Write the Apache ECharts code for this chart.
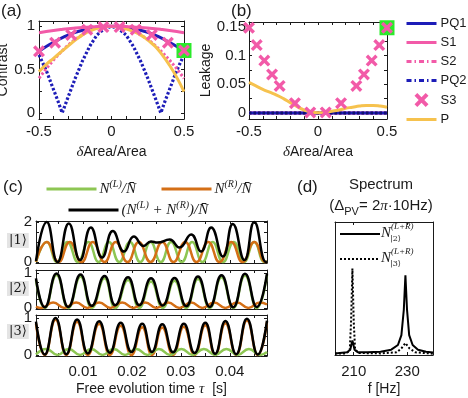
<!DOCTYPE html>
<html>
<head>
<meta charset="utf-8">
<style>
html, body { margin: 0; padding: 0; background: #fff; }
#chart { width: 468px; height: 398px; }
</style>
</head>
<body>
<div id="chart"></div>
<script src="https://cdn.jsdelivr.net/npm/echarts@6/dist/echarts.min.js"></script>
<script>
// (a) contrast and (b) leakage vs dArea/Area
const areaX = [-0.5, -0.45, -0.4, -0.35, -0.3, -0.25, -0.2, -0.15, -0.1, -0.05, 0, 0.05, 0.1, 0.15, 0.2, 0.25, 0.3, 0.35, 0.4, 0.45, 0.5]
const pq1Contrast = [0.71, 0.765, 0.814, 0.858, 0.896, 0.928, 0.954, 0.974, 0.988, 0.997, 1, 0.997, 0.988, 0.974, 0.954, 0.928, 0.896, 0.858, 0.814, 0.765, 0.71]
const s1Contrast = [0.925, 0.938, 0.95, 0.961, 0.971, 0.979, 0.986, 0.992, 0.996, 0.999, 1, 0.999, 0.996, 0.992, 0.986, 0.979, 0.971, 0.961, 0.95, 0.938, 0.925]
const s2Contrast = [0.4, 0.51, 0.61, 0.7, 0.78, 0.85, 0.9, 0.95, 0.98, 0.995, 1, 0.995, 0.98, 0.95, 0.9, 0.85, 0.78, 0.7, 0.61, 0.51, 0.4]
const pContrast = [0.475, 0.56, 0.63, 0.7, 0.77, 0.84, 0.9, 0.945, 0.975, 0.995, 1, 0.99, 0.97, 0.94, 0.9, 0.84, 0.77, 0.67, 0.55, 0.41, 0.245]
const pq2X = [-0.5, -0.45, -0.4, -0.37, -0.34, -0.3, -0.25, -0.2, -0.15, -0.1, -0.05, 0, 0.05, 0.1, 0.15, 0.2, 0.25, 0.3, 0.34, 0.37, 0.4, 0.45, 0.5]
const pq2Contrast = [0.67, 0.49, 0.27, 0.14, 0, 0.18, 0.4, 0.6, 0.77, 0.9, 0.97, 1, 0.97, 0.9, 0.77, 0.6, 0.4, 0.18, 0, 0.14, 0.27, 0.49, 0.67]
const s3ContrastX = [-0.5, -0.389, -0.278, -0.167, -0.056, 0.056, 0.167, 0.278, 0.389, 0.5]
const s3Contrast = [0.71, 0.81, 0.9, 0.96, 0.99, 0.99, 0.96, 0.9, 0.81, 0.72]

const zeroLeak = [0, 0, 0, 0, 0, 0, 0, 0, 0, 0, 0, 0, 0, 0, 0, 0, 0, 0, 0, 0, 0]
const pLeak = [0.053, 0.047, 0.041, 0.036, 0.031, 0.025, 0.018, 0.011, 0.005, 0.0015, 0.0005, 0.001, 0.003, 0.005, 0.008, 0.01, 0.012, 0.013, 0.013, 0.012, 0.01]
const s3LeakX = [-0.5, -0.444, -0.389, -0.333, -0.278, -0.167, -0.056, 0.056, 0.167, 0.278, 0.333, 0.389, 0.444, 0.5]
const s3Leak = [0.148, 0.118, 0.091, 0.067, 0.047, 0.017, 0.001, 0.001, 0.017, 0.047, 0.067, 0.091, 0.118, 0.148]
const markX = [0.5]
const markContrast = [0.72]
const markLeak = [0.148]

// (c) populations, time in ms (peaks / troughs)
const c1GreenT = [0.4, 2.6, 4.7, 6.8, 9.0, 11.1, 13.2, 15.3, 17.4, 19.6, 21.7, 23.8, 25.9, 28.0, 30.2, 32.3, 34.4, 36.5, 38.6, 40.8, 42.9, 45.0, 47.1, 47.6]
const c1GreenV = [0, 1, 0, 1, 0, 1, 0, 1, 0, 1, 0, 1, 0, 1, 0, 1, 0, 1, 0, 1, 0, 1, 0, 0.03]
const c1OrangeT = [0.4, 2.6, 5.0, 7.3, 9.7, 12.0, 14.4, 16.7, 19.1, 21.4, 23.8, 26.2, 28.5, 30.9, 33.2, 35.6, 37.9, 40.3, 42.6, 45.0, 47.3, 47.6]
const c1OrangeV = [0.01, 1, 0, 1, 0, 1, 0, 1, 0, 1, 0, 1, 0, 1, 0, 1, 0, 1, 0, 1, 0, 0.01]
const c1BlackT = [0.4, 2.6, 4.8, 7.1, 9.4, 11.6, 13.9, 16.1, 18.4, 20.4, 22.4, 23.9, 25.2, 27.7, 29.7, 32.1, 34.1, 36.2, 38.6, 40.6, 43.0, 45.0, 47.4, 47.6]
const c1BlackV = [0.05, 2.0, 0.0, 1.93, 0.1, 1.73, 0.22, 1.55, 0.52, 1.27, 0.8, 1.03, 0.97, 1.12, 0.73, 1.38, 0.52, 1.72, 0.27, 1.9, 0.1, 2.0, 0.0, 0.02]

const c2BlackT = [0.4, 2.2, 4.6, 7.0, 9.5, 11.8, 14.4, 16.6, 19.2, 21.5, 23.9, 26.3, 28.7, 31.1, 33.5, 35.9, 38.3, 40.7, 43.1, 45.5, 47.6]
const c2BlackV = [0.85, 0.02, 0.99, 0.03, 0.96, 0.06, 0.92, 0.08, 0.88, 0.08, 0.85, 0.07, 0.86, 0.05, 0.9, 0.03, 0.94, 0.02, 0.98, 0.03, 0.99]
const c2GreenV = [0.8, 0, 0.95, 0, 0.9, 0, 0.85, 0, 0.8, 0, 0.76, 0, 0.78, 0, 0.83, 0, 0.88, 0, 0.93, 0, 0.95]
const c2OrangeT = [0.4, 1.5, 3.9, 6.2, 8.6, 10.9, 13.3, 15.6, 18.0, 20.3, 22.7, 25.0, 27.4, 29.7, 32.1, 34.4, 36.8, 39.1, 41.5, 43.8, 46.2, 47.6]
const c2OrangeV = [0.04, 0, 0.16, 0, 0.16, 0, 0.16, 0, 0.16, 0, 0.16, 0, 0.16, 0, 0.16, 0, 0.16, 0, 0.16, 0, 0.16, 0.1]

const c3BlackT = [0.4, 2.2, 4.4, 6.6, 8.8, 11.0, 13.3, 15.5, 17.7, 19.9, 22.1, 24.1, 26.2, 28.4, 30.6, 32.8, 35.0, 37.0, 39.1, 41.3, 43.5, 45.7, 47.6]
const c3BlackV = [0.9, 0.01, 1.0, 0.02, 0.96, 0.04, 0.91, 0.06, 0.87, 0.08, 0.84, 0.08, 0.83, 0.07, 0.84, 0.05, 0.87, 0.03, 0.92, 0.02, 0.98, 0.01, 0.93]
const c3OrangeV = [0.85, 0, 0.95, 0, 0.9, 0, 0.84, 0, 0.79, 0, 0.75, 0, 0.74, 0, 0.76, 0, 0.8, 0, 0.86, 0, 0.93, 0, 0.9]
const c3GreenT = [0.4, 2.5, 4.8, 7.1, 9.4, 11.7, 14.0, 16.3, 18.6, 20.9, 23.2, 25.5, 27.8, 30.1, 32.4, 34.7, 37.0, 39.3, 41.6, 43.9, 46.2, 47.6]
const c3GreenV = [0.01, 0.16, 0, 0.16, 0, 0.16, 0, 0.16, 0, 0.16, 0, 0.16, 0, 0.16, 0, 0.16, 0, 0.16, 0, 0.16, 0, 0.08]
const timeLabels = [10, 20, 30, 40]
const timeTicks = [5, 10, 15, 20, 25, 30, 35, 40, 45]

// (d) spectrum
const spec2F = [203, 207.5, 208.7, 209.5, 210.3, 211.5, 215, 220, 224, 226.5, 227.8, 228.7, 229.3, 229.9, 230.7, 232, 234, 237, 239.6]
const spec2A = [0.012, 0.02, 0.04, 0.11, 0.04, 0.02, 0.02, 0.025, 0.04, 0.075, 0.15, 0.34, 0.6, 0.34, 0.15, 0.075, 0.04, 0.025, 0.018]
const spec3F = [203, 207, 208.5, 209.0, 209.5, 210.0, 210.5, 212, 220, 226, 227.8, 229.3, 230.8, 233, 239.6]
const spec3A = [0.01, 0.012, 0.03, 0.25, 0.65, 0.25, 0.04, 0.015, 0.012, 0.02, 0.05, 0.09, 0.05, 0.02, 0.01]
const freqLabels = [210, 230]

const INK = '#1a1a1a'
const SANS = 'Liberation Sans, Arial, sans-serif'
const SERIF = 'Liberation Serif, DejaVu Serif, serif'
const BLUE = '#1d1db8'
const PINK = '#f25aa8'
const GOLD = '#f6c24e'
const GREEN = '#8dc653'
const ORANGE = '#d46f16'
const xMark = 'path://M0,2 L2,0 L5,3 L8,0 L10,2 L7,5 L10,8 L8,10 L5,7 L2,10 L0,8 L3,5 Z'

const pairs = (xs, ys) => xs.map((x, i) => [x, ys[i]])

const grids = [
  { left: 39, top: 21, width: 145, height: 98 },
  { left: 249, top: 22, width: 138, height: 97 },
  { left: 36, top: 221, width: 231, height: 42 },
  { left: 36, top: 270, width: 231, height: 39 },
  { left: 36, top: 315, width: 231, height: 41 },
  { left: 335, top: 222, width: 98, height: 133 }
].map(g => ({ ...g, containLabel: false, outerBoundsMode: 'none' }))

const xAxes = []
const yAxes = []
// each grid gets a framed box: labelled bottom/left axis plus bare top/right axis
function addAxes(list, grid, isX, o) {
  const common = {
    type: 'value', gridIndex: grid, min: o.min, max: o.max,
    splitLine: { show: false },
    axisLine: { show: true, onZero: false, lineStyle: { color: INK, width: 1 } },
    axisTick: { show: !o.noTicks, inside: true, length: 3, customValues: o.ticks, lineStyle: { color: INK } }
  }
  list.push({
    ...common,
    position: isX ? 'bottom' : 'left',
    axisLabel: o.labels ? {
      customValues: o.labels, formatter: o.fmt, fontSize: o.fs || 14, color: INK,
      fontFamily: SANS, margin: o.margin
    } : { show: false },
    name: o.name, nameLocation: 'middle', nameGap: o.nameGap,
    nameTextStyle: { fontSize: 14, color: INK, fontFamily: SANS, rich: o.rich }
  })
  list.push({ ...common, position: isX ? 'top' : 'right', axisLabel: { show: false } })
}

const deltaRich = { d: { fontFamily: SERIF, fontStyle: 'italic', fontSize: 15 } }
const areaTicks = [-0.5, -0.4, -0.3, -0.2, -0.1, 0, 0.1, 0.2, 0.3, 0.4, 0.5]

addAxes(xAxes, 0, true, { min: -0.5, max: 0.5, labels: [-0.5, 0, 0.5], ticks: areaTicks, margin: 5, fs: 15, name: '{d|δ}Area/Area', nameGap: 26, rich: deltaRich })
addAxes(yAxes, 0, false, { min: -0.07, max: 1.06, labels: [0, 0.5, 1], ticks: [0, 0.25, 0.5, 0.75, 1], margin: 4, fs: 15, name: 'Contrast', nameGap: 23 })
addAxes(xAxes, 1, true, { min: -0.5, max: 0.5, labels: [-0.5, 0, 0.5], ticks: areaTicks, margin: 5, fs: 15, name: '{d|δ}Area/Area', nameGap: 26, rich: deltaRich })
addAxes(yAxes, 1, false, { min: -0.0105, max: 0.158, labels: [0, 0.05, 0.1, 0.15], ticks: [0, 0.025, 0.05, 0.075, 0.1, 0.125, 0.15], margin: 3, fs: 15, name: 'Leakage', nameGap: 31 })

const tFmt = v => (v / 1000).toFixed(2)
addAxes(xAxes, 2, true, { min: 0.4, max: 47.6, ticks: timeTicks })
addAxes(yAxes, 2, false, { min: -0.05, max: 2.05, labels: [0, 2], ticks: [0, 0.5, 1, 1.5, 2], margin: 4, fs: 15 })
addAxes(xAxes, 3, true, { min: 0.4, max: 47.6, ticks: timeTicks })
addAxes(yAxes, 3, false, { min: -0.03, max: 1.09, labels: [0, 1], ticks: [0, 0.25, 0.5, 0.75, 1], margin: 4, fs: 15 })
addAxes(xAxes, 4, true, { min: 0.4, max: 47.6, labels: timeLabels, ticks: timeTicks, fmt: tFmt, margin: 8, fs: 15, name: 'Free evolution time {t|τ}  [s]', nameGap: 26, rich: { t: { fontFamily: SERIF, fontStyle: 'italic', fontSize: 15 } } })
addAxes(yAxes, 4, false, { min: -0.03, max: 1.08, labels: [0, 1], ticks: [0, 0.25, 0.5, 0.75, 1], margin: 4, fs: 15 })

addAxes(xAxes, 5, true, { min: 203, max: 239.6, labels: freqLabels, ticks: freqLabels, margin: 9, fs: 15, name: 'f [Hz]', nameGap: 27 })
addAxes(yAxes, 5, false, { min: 0, max: 1, noTicks: true })

function line(name, grid, xs, ys, color, width, type, smooth, z) {
  return {
    name, type: 'line', xAxisIndex: 2 * grid, yAxisIndex: 2 * grid,
    data: pairs(xs, ys), symbol: 'none', showSymbol: false, smooth: smooth || false,
    lineStyle: { color, width, type: type || 'solid' }, itemStyle: { color }, z: z || 2
  }
}
function marks(name, grid, xs, ys, color, symbol, size, z) {
  return {
    name, type: 'scatter', xAxisIndex: 2 * grid, yAxisIndex: 2 * grid,
    data: pairs(xs, ys), symbol, symbolSize: size, itemStyle: { color, opacity: 1 }, z
  }
}

const dots = [2.5, 2]
const series = [
  // (a)
  line('PQ2', 0, pq2X, pq2Contrast, BLUE, 3.2, dots, false, 2),
  line('S2', 0, areaX, s2Contrast, PINK, 3, dots, false, 2),
  line('PQ1', 0, areaX, pq1Contrast, BLUE, 3, 'solid', true, 3),
  line('P', 0, areaX, pContrast, GOLD, 3, 'solid', true, 4),
  line('S1', 0, areaX, s1Contrast, PINK, 3, 'solid', true, 4),
  marks('mark', 0, markX, markContrast, '#2bea2b', 'rect', 15, 5),
  marks('S3', 0, s3ContrastX, s3Contrast, PINK, xMark, 12, 6),
  // (b)
  line('S1', 1, areaX, zeroLeak, PINK, 3, 'solid', false, 2),
  line('S2', 1, areaX, zeroLeak, PINK, 3, dots, false, 2),
  line('PQ1', 1, areaX, zeroLeak, BLUE, 3, 'solid', false, 3),
  line('PQ2', 1, areaX, zeroLeak, '#10106e', 3, dots, false, 3),
  line('P', 1, areaX, pLeak, GOLD, 3, 'solid', true, 4),
  marks('mark', 1, markX, markLeak, '#2bea2b', 'rect', 15, 5),
  marks('S3', 1, s3LeakX, s3Leak, PINK, xMark, 12, 6),
  // (c)
  line('NL', 2, c1GreenT, c1GreenV, GREEN, 2.5, 'solid', 0.5, 2),
  line('NR', 2, c1OrangeT, c1OrangeV, ORANGE, 2.5, 'solid', 0.5, 3),
  line('NLR', 2, c1BlackT, c1BlackV, '#000', 2.5, 'solid', 0.5, 4),
  line('NL', 3, c2BlackT, c2GreenV, GREEN, 2.5, 'solid', 0.5, 2),
  line('NR', 3, c2OrangeT, c2OrangeV, ORANGE, 2.5, 'solid', 0.5, 3),
  line('NLR', 3, c2BlackT, c2BlackV, '#000', 2.5, 'solid', 0.5, 4),
  line('NR', 4, c3BlackT, c3OrangeV, ORANGE, 2.5, 'solid', 0.5, 2),
  line('NL', 4, c3GreenT, c3GreenV, GREEN, 2.5, 'solid', 0.5, 3),
  line('NLR', 4, c3BlackT, c3BlackV, '#000', 2.5, 'solid', 0.5, 4),
  // (d)
  line('N3', 5, spec3F, spec3A, '#000', 2, [2, 2], false, 2),
  line('N2', 5, spec2F, spec2A, '#000', 2, 'solid', false, 3)
]
series.forEach(s => { s.silent = true; s.animation = false })

const mathRich = {
  n: { fontFamily: SERIF, fontStyle: 'italic', fontSize: 15, lineHeight: 20, color: INK },
  s: { fontFamily: SERIF, fontStyle: 'italic', fontSize: 10, lineHeight: 12, verticalAlign: 'top', color: INK }
}
// legend icons: keep only the line part (hide the marker drawn in the middle)
const noDot = { opacity: 0 }
const cLegend = (name, left, top, fmt) => ({
  data: [name], left, top, padding: 0, itemWidth: 50, itemHeight: 14, selectedMode: false,
  itemStyle: noDot, lineStyle: { width: 3 },
  formatter: () => fmt, textStyle: { rich: mathRich, padding: [0, 0, 0, -2] }
})

const dashDot = [5, 3, 1.5, 3]
const legends = [
  {
    data: [
      { name: 'PQ1' }, { name: 'S1' },
      { name: 'S2', lineStyle: { width: 3, type: dashDot } },
      { name: 'PQ2', lineStyle: { width: 3, type: dashDot } },
      { name: 'S3', itemStyle: { opacity: 1 } }, { name: 'P' }
    ],
    orient: 'vertical', left: 405, top: 17, padding: 0,
    itemWidth: 30, itemHeight: 14, itemGap: 6, selectedMode: false,
    itemStyle: noDot, lineStyle: { width: 3 },
    textStyle: { fontSize: 13, color: INK, fontFamily: SANS, padding: [0, 0, 0, -1] }
  },
  cLegend('NL', 45, 179, '{n|N}{s|(L)}{n|/N\u0304}'),
  cLegend('NR', 160, 179, '{n|N}{s|(R)}{n|/N\u0304}'),
  cLegend('NLR', 67, 200, '{n|(N}{s|(L)}{n| + N}{s|(R)}{n|)/N\u0304}')
]

const txt = (text, left, top, font, extra) => ({ type: 'text', left, top, silent: true, style: { text, font, fill: INK, ...(extra || {}) } })
const ketStyle = { backgroundColor: '#e4e4e4', padding: [1, 2, 1, 2] }
const graphic = [
  txt('(a)', 1, 3, '17px Liberation Sans'),
  txt('(b)', 231, 3, '17px Liberation Sans'),
  txt('(c)', 3, 179, '17px Liberation Sans'),
  txt('(d)', 297, 179, '17px Liberation Sans'),
  txt('|1\u27E9', 7, 233, '13px DejaVu Serif', ketStyle),
  txt('|2\u27E9', 7, 281, '13px DejaVu Serif', ketStyle),
  txt('|3\u27E9', 7, 324, '13px DejaVu Serif', ketStyle),
  { type: 'text', x: 381, y: 185, silent: true, style: { text: 'Spectrum', font: '15px Liberation Sans', fill: INK, align: 'center', verticalAlign: 'middle' } },
  {
    type: 'text', x: 381, y: 206, silent: true,
    style: {
      text: '{a|(Δ}{b|PV}{a|= 2}{c|π}{a|·10Hz)}', align: 'center', verticalAlign: 'middle',
      rich: {
        a: { fontFamily: SANS, fontSize: 15, lineHeight: 22, fill: INK },
        b: { fontFamily: SANS, fontSize: 11, lineHeight: 12, verticalAlign: 'bottom', fill: INK },
        c: { fontFamily: SERIF, fontStyle: 'italic', fontSize: 15, lineHeight: 22, fill: INK }
      }
    }
  },
  { type: 'line', silent: true, shape: { x1: 340, y1: 234, x2: 380, y2: 234 }, style: { stroke: '#000', lineWidth: 2 } },
  { type: 'line', silent: true, shape: { x1: 340, y1: 259, x2: 380, y2: 259 }, style: { stroke: '#000', lineWidth: 2, lineDash: [2, 2] } },
  txt('N', 381, 226, 'italic 15px Liberation Serif'),
  txt('(L+R)', 391, 222, 'italic 9px Liberation Serif'),
  txt('|2\u27E9', 390, 235, '8px DejaVu Serif'),
  txt('N', 381, 251, 'italic 15px Liberation Serif'),
  txt('(L+R)', 391, 247, 'italic 9px Liberation Serif'),
  txt('|3\u27E9', 390, 260, '8px DejaVu Serif')
]

const chart = echarts.init(document.getElementById('chart'), null, { renderer: 'canvas' })
chart.setOption({
  animation: false,
  backgroundColor: '#fff',
  grid: grids,
  xAxis: xAxes,
  yAxis: yAxes,
  legend: legends,
  series,
  graphic
})
</script>
</body>
</html>
